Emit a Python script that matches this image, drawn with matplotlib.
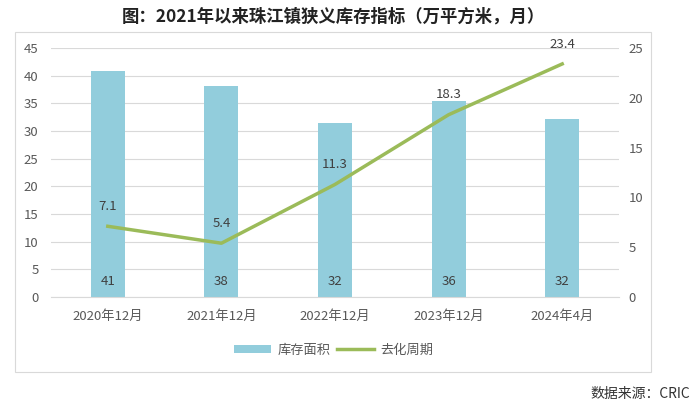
import numpy as np
import matplotlib.pyplot as plt
from matplotlib.patches import Rectangle

plt.rcParams['font.family'] = ['Noto Sans CJK SC', 'DejaVu Sans']

CATEGORIES = ['2020年12月', '2021年12月', '2022年12月', '2023年12月', '2024年4月']
STOCK_AREA = [40.8, 38.2, 31.4, 35.5, 32.2]
STOCK_LABELS = ['41', '38', '32', '36', '32']
CYCLE = [7.1, 5.4, 11.3, 18.3, 23.4]

BAR_COLOR = '#92CDDC'
LINE_COLOR = '#9BBB59'
TEXT_COLOR = '#595959'
GRID_COLOR = '#D9D9D9'

fig = plt.figure(figsize=(7, 4.09), dpi=100)

# outer chart frame
fig.patches.append(Rectangle((15 / 700, 1 - 372 / 409), 636 / 700, 340 / 409,
                             transform=fig.transFigure, fill=False,
                             edgecolor='#D9D9D9', linewidth=0.8))

ax = fig.add_axes([51 / 700, 1 - 297 / 409, 568 / 700, 249 / 409])
x = np.arange(len(CATEGORIES))
bars = ax.bar(x, STOCK_AREA, width=0.30, color=BAR_COLOR, label='库存面积', zorder=2)
ax.set_ylim(0, 45)
ax.set_yticks(np.arange(0, 46, 5))
ax.set_xlim(-0.5, 4.5)
ax.set_xticks(x)
ax.set_xticklabels(CATEGORIES, fontsize=9.5, color=TEXT_COLOR)
ax.grid(axis='y', color=GRID_COLOR, linewidth=0.8, zorder=0)
for s in ax.spines.values():
    s.set_visible(False)
ax.spines['bottom'].set_visible(True)
ax.spines['bottom'].set_color(GRID_COLOR)
ax.tick_params(axis='both', length=0, labelsize=9.5, colors=TEXT_COLOR)
ax.tick_params(axis='y', pad=9)
ax.tick_params(axis='x', pad=9)

for xi, lab in zip(x, STOCK_LABELS):
    ax.text(xi, 2.8, lab, ha='center', va='center', fontsize=9.5, color='#404040', zorder=4)

ax2 = ax.twinx()
line, = ax2.plot(x, CYCLE, color=LINE_COLOR, linewidth=2.5, label='去化周期', zorder=3)
ax2.set_ylim(0, 25)
ax2.set_yticks(np.arange(0, 26, 5))
for s in ax2.spines.values():
    s.set_visible(False)
ax2.tick_params(axis='y', length=0, labelsize=9.5, colors=TEXT_COLOR, pad=7)
for xi, v in zip(x, CYCLE):
    ax2.text(xi, v + 2.0, f'{v:.1f}', ha='center', va='center', fontsize=9.5, color='#404040')

fig.legend([bars, line], ['库存面积', '去化周期'], loc='center',
           bbox_to_anchor=(334 / 700, 1 - 350 / 409), ncol=2, frameon=False,
           fontsize=9.5, labelcolor=TEXT_COLOR, handlelength=2.8, handleheight=0.6,
           columnspacing=0.5, handletextpad=0.5)

fig.text(333 / 700, 1 - 17 / 409, '图：2021年以来珠江镇狭义库存指标（万平方米，月）',
         ha='center', va='center', fontsize=12.5, fontweight='bold', color='#222222')
fig.text(690 / 700, 1 - 394 / 409, '数据来源：CRIC', ha='right', va='center',
         fontsize=10, color='#333333')

fig.savefig('out.png', dpi=100)
